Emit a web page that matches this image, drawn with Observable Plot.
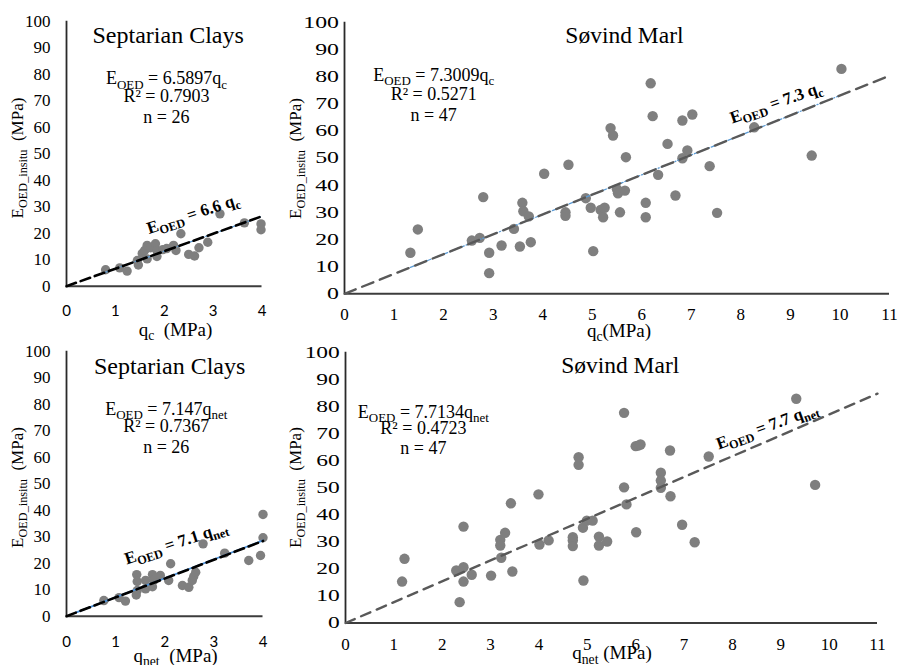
<!DOCTYPE html>
<html><head><meta charset="utf-8">
<script src="https://cdn.jsdelivr.net/npm/d3@7"></script>
<script src="https://cdn.jsdelivr.net/npm/@observablehq/plot@0.6"></script>
<style>
body{margin:0;background:#fff;}
#root{position:relative;width:899px;height:665px;overflow:hidden;background:#fff;}
#root svg{position:absolute;}
#root svg text{font-family:"Liberation Serif","Times New Roman","DejaVu Serif",serif;}
#root svg g.sansticks text{font-family:Lato,"Open Sans","Liberation Sans",sans-serif;}
</style></head><body><div id="root"></div>
<script>
// ---------- data ----------
const yTicks = [0,10,20,30,40,50,60,70,80,90,100];
const xTicksSep = [0,1,2,3,4];
const xTicksSov = [0,1,2,3,4,5,6,7,8,9,10,11];

// Septarian Clays: [qc (MPa), E_OED_insitu (MPa)]
const sepQc = [[0.80,6.2],[1.09,6.9],[1.24,5.7],[1.45,9.7],[1.47,8.0],[1.55,12.4],[1.60,13.5],[1.65,15.4],[1.65,10.3],[1.72,14.5],[1.82,16.0],[1.85,13.5],[1.85,11.2],[1.97,13.8],[2.05,14.2],[2.19,15.4],[2.24,13.5],[2.34,19.8],[2.50,12.0],[2.62,11.4],[2.71,14.5],[2.89,16.6],[3.14,27.3],[3.64,23.9],[3.98,23.5],[3.98,21.3]];
// Septarian Clays: [qnet (MPa), E_OED_insitu (MPa)]
const sepQnet = [[0.76,5.9],[1.07,7.0],[1.20,5.7],[1.44,9.7],[1.43,15.7],[1.44,13.1],[1.42,8.0],[1.61,10.3],[1.61,13.5],[1.75,15.7],[1.78,13.6],[1.75,11.1],[1.91,15.4],[2.08,13.5],[2.12,19.8],[2.36,11.6],[2.49,10.9],[2.56,13.5],[2.59,15.0],[2.63,16.6],[2.78,27.3],[3.22,23.8],[3.71,21.0],[3.95,22.9],[4.00,29.6],[4.00,38.4]];
// Søvind Marl: [qc (MPa), E_OED_insitu (MPa)]
const sovQc = [[1.33,15.1],[1.48,23.7],[2.57,19.6],[2.73,20.6],[2.80,35.6],[2.92,15.1],[2.92,7.6],[3.17,17.8],[3.42,23.9],[3.54,17.4],[3.59,33.5],[3.61,30.4],[3.72,28.5],[3.76,19.0],[4.03,44.2],[4.46,30.0],[4.46,28.7],[4.52,47.5],[4.87,35.2],[4.97,31.7],[5.02,15.7],[5.17,30.9],[5.22,28.2],[5.25,31.7],[5.37,61.0],[5.42,58.3],[5.50,38.5],[5.52,37.0],[5.56,30.0],[5.66,38.0],[5.68,50.3],[6.08,33.5],[6.08,28.2],[6.18,77.5],[6.22,65.4],[6.33,43.8],[6.52,55.2],[6.68,36.2],[6.82,63.8],[6.82,49.9],[6.92,52.8],[7.02,66.0],[7.37,47.0],[7.52,29.8],[8.27,61.3],[9.43,50.9],[10.03,82.8]];
// Søvind Marl: [qnet (MPa), E_OED_insitu (MPa)]
const sovQnet = [[1.17,15.3],[1.22,23.7],[2.29,19.4],[2.36,7.7],[2.44,35.6],[2.44,20.6],[2.44,15.3],[2.61,17.8],[3.01,17.5],[3.20,30.7],[3.20,28.6],[3.22,24.1],[3.30,33.3],[3.42,44.2],[3.45,19.0],[3.99,47.5],[4.01,29.0],[4.20,30.5],[4.70,31.7],[4.70,30.5],[4.70,28.4],[4.82,61.2],[4.82,58.4],[4.91,35.2],[4.92,15.7],[4.99,37.8],[5.11,37.8],[5.24,31.9],[5.24,28.6],[5.41,30.1],[5.76,77.6],[5.76,50.1],[5.81,43.8],[6.00,65.3],[6.05,65.5],[6.10,65.9],[6.01,33.5],[6.52,55.5],[6.52,52.6],[6.52,49.9],[6.71,63.7],[6.72,46.8],[6.96,36.3],[7.22,29.8],[7.51,61.5],[9.32,82.8],[9.71,51.0]];

// design lines (slopes stated on the chart) and Excel trendlines
const slopes = {sepQc: 6.6, sovQc: 7.3, sepQnet: 7.1, sovQnet: 7.7};
const trendSlopes = {sepQc: 6.5897, sovQc: 7.3009, sepQnet: 7.147, sovQnet: 7.7134};

// texts
const yTitle = "E_{OED_insitu}  (MPa)";
const titleSep = "Septarian Clays";
const titleSov = "Søvind Marl";
const eqSepQc = ["E_{OED} = 6.5897q_{c}", "R² = 0.7903", "n = 26"];
const eqSovQc = ["E_{OED} = 7.3009q_{c}", "R² = 0.5271", "n = 47"];
const eqSepQnet = ["E_{OED} = 7.147q_{net}", "R² = 0.7367", "n = 26"];
const eqSovQnet = ["E_{OED} = 7.7134q_{net}", "R² = 0.4723", "n = 47"];
const lineLabels = {sepQc: "E_{OED} = 6.6 q_{c}", sovQc: "E_{OED} = 7.3 q_{c}", sepQnet: "E_{OED} = 7.1 q_{net}", sovQnet: "E_{OED} = 7.7 q_{net}"};
const xTitles = {sepQc: "q_{c}  (MPa)", sovQc: "q_{c}(MPa)", sepQnet: "q_{net}  (MPa)", sovQnet: "q_{net} (MPa)"};

// ---------- rendering ----------
const root = document.getElementById("root");

function richText(svg) {
  svg.querySelectorAll("text").forEach(el => {
    const s = el.textContent;
    if (!s.includes("_{")) return;
    const re = /_\{([^}]*)\}/g; let last = 0, m; const parts = [];
    while ((m = re.exec(s))) {
      if (m.index > last) parts.push({t: s.slice(last, m.index)});
      parts.push({t: m[1], sub: true}); last = re.lastIndex;
    }
    if (last < s.length) parts.push({t: s.slice(last)});
    el.textContent = "";
    let shifted = false;
    for (const p of parts) {
      const ts = document.createElementNS("http://www.w3.org/2000/svg", "tspan");
      ts.textContent = p.t;
      if (p.sub) { ts.setAttribute("font-size", "72%"); ts.setAttribute("dy", "0.33em"); shifted = true; }
      else if (shifted) { ts.setAttribute("dy", "-0.238em"); shifted = false; }
      el.appendChild(ts);
    }
  });
}

function panel(c) {
  const fit = c.fitRange.map(q => ({q, e: c.slope * q}));
  const trend = c.trendRange ? c.trendRange.map(q => ({q, e: c.trendSlope * q})) : null;
  const marks = [
    Plot.ruleY([0], {x1: 0, x2: c.xMax, stroke: "#3c3c3c", strokeWidth: 2}),
    Plot.ruleX([0], {y1: 0, y2: 100, stroke: "#2a2a2a", strokeWidth: 1.8}),
    Plot.axisY({ticks: yTicks, tickSize: 0, tickPadding: c.yPad, fontSize: 17, label: null, tickFormat: d => String(d)}),
    Plot.axisX({ticks: c.xTicks, tickSize: 0, tickPadding: c.xPad, fontSize: c.xFontSize, label: null, tickFormat: d => String(d)}),
    Plot.dot(c.points, {x: d => d[0], y: d => d[1], r: c.r, fill: "#7f7f7f"}),
  ];
  if (trend) marks.push(Plot.line(trend, {x: "q", y: "e", stroke: c.trendColor, strokeWidth: c.trendWidth, strokeDasharray: c.trendDash}));
  marks.push(Plot.line(fit, {x: "q", y: "e", stroke: c.fitColor, strokeWidth: c.fitWidth, strokeDasharray: c.fitDash}));
  marks.push(Plot.text([c.title], {x: c.titleX, y: c.titleY, text: d => d, fontSize: c.titleSize, textAnchor: "middle", lineAnchor: "bottom"}));
  c.eq.forEach((s, i) => marks.push(Plot.text([s], {x: c.eqX, y: c.eqY[i], text: d => d, fontSize: 18, textAnchor: "middle", lineAnchor: "bottom"})));
  marks.push(Plot.text([c.rotText], {x: c.rotX, y: c.rotY, text: d => d, rotate: c.rotAngle, fontSize: 17, fontWeight: "bold", textAnchor: "middle", lineAnchor: "middle"}));
  marks.push(Plot.text([c.xTitle], {x: c.xTitleX, frameAnchor: "bottom", dy: c.xTitleDy, text: d => d, fontSize: 19, textAnchor: "middle", lineAnchor: "bottom"}));
  marks.push(Plot.text([yTitle], {frameAnchor: "left", dx: c.yTitleDx, dy: c.yTitleDy, rotate: -90, text: d => d, fontSize: 17, textAnchor: "middle", lineAnchor: "middle"}));

  const svg = Plot.plot({
    width: c.width, height: c.height,
    marginLeft: c.ml, marginRight: c.mr, marginTop: c.mt, marginBottom: c.mb,
    x: {domain: [0, c.xMax]}, y: {domain: [0, 100]},
    style: {background: "transparent", overflow: "visible", color: "#000"},
    marks
  });
  svg.style.left = c.left + "px"; svg.style.top = c.top + "px";
  svg.setAttribute("overflow", "visible");
  const xg = svg.querySelector('g[aria-label="x-axis tick label"]');
  if (xg && c.sansTicks) xg.classList.add("sansticks");
  if (c.yStretch) {
    svg.querySelectorAll('g[aria-label="y-axis tick label"] text').forEach(t => {
      const tr = t.getAttribute("transform") || "";
      t.setAttribute("transform", tr + ` scale(${c.yStretch},1)`);
    });
  }
  richText(svg);
  root.appendChild(svg);
}

panel({left: 0, top: 0, width: 300, height: 335, ml: 66, mr: 38.5, mt: 20.7, mb: 49.3,
  xMax: 4, xTicks: xTicksSep, sansTicks: true, xFontSize: 15, xPad: 19.3, yPad: 16,
  points: sepQc, r: 4.7,
  slope: slopes.sepQc, fitRange: [0, 4], fitColor: "#000", fitWidth: 2.6, fitDash: "10,5",
  trendSlope: trendSlopes.sepQc, trendRange: [0.77, 4], trendColor: "#5b9bd5", trendWidth: 1.3, trendDash: "4,2,1,2",
  title: titleSep, titleSize: 24, titleX: 2.08, titleY: 91.7,
  eq: eqSepQc, eqX: 2.045, eqY: [76.2, 69.4, 61.5],
  rotText: lineLabels.sepQc, rotX: 2.59, rotY: 27.3, rotAngle: -18,
  xTitle: xTitles.sepQc, xTitleX: 2.23, xTitleDy: 49.5,
  yTitleDx: -48.7, yTitleDy: 4.3});

panel({left: 290, top: 0, width: 609, height: 335, ml: 54, mr: 10, mt: 21.7, mb: 41.7,
  xMax: 11, xTicks: xTicksSov, sansTicks: false, xFontSize: 17, xPad: 14.4, yPad: 5.5, yStretch: 1.4,
  points: sovQc, r: 5.2,
  slope: slopes.sovQc, fitRange: [0, 11], fitColor: "#595959", fitWidth: 2.4, fitDash: "12,7",
  trendSlope: trendSlopes.sovQc, trendRange: [1.33, 10], trendColor: "#5b9bd5", trendWidth: 1.3, trendDash: "4,2,1,2",
  title: titleSov, titleSize: 23.5, titleX: 5.65, titleY: 92.3,
  eq: eqSovQc, eqX: 1.80, eqY: [78.5, 71.2, 63.5],
  rotText: lineLabels.sovQc, rotX: 8.71, rotY: 70.4, rotAngle: -19,
  xTitle: xTitles.sovQc, xTitleX: 5.54, xTitleDy: 43,
  yTitleDx: -48.7, yTitleDy: 0.5});

panel({left: 0, top: 330, width: 300, height: 335, ml: 66, mr: 37.5, mt: 20.7, mb: 49.3,
  xMax: 4, xTicks: xTicksSep, sansTicks: true, xFontSize: 15, xPad: 20.3, yPad: 16,
  points: sepQnet, r: 4.7,
  slope: slopes.sepQnet, fitRange: [0, 4], fitColor: "#000", fitWidth: 2.6, fitDash: "10,5",
  trendSlope: trendSlopes.sepQnet, trendRange: [0.2, 4], trendColor: "#4a90d9", trendWidth: 1.8, trendDash: null,
  title: titleSep, titleSize: 24, titleX: 2.1, titleY: 91.5,
  eq: eqSepQnet, eqX: 2.03, eqY: [76.1, 69.4, 61.5],
  rotText: lineLabels.sepQnet, rotX: 2.23, rotY: 27.7, rotAngle: -18,
  xTitle: xTitles.sepQnet, xTitleX: 2.22, xTitleDy: 45.3,
  yTitleDx: -48.7, yTitleDy: 3.8});

panel({left: 290, top: 330, width: 609, height: 335, ml: 55, mr: 22, mt: 21.7, mb: 42.5,
  xMax: 11, xTicks: xTicksSov, sansTicks: false, xFontSize: 17, xPad: 14.7, yPad: 5.7, yStretch: 1.38,
  points: sovQnet, r: 5.2,
  slope: slopes.sovQnet, fitRange: [0, 11], fitColor: "#595959", fitWidth: 2.4, fitDash: "10,7",
  trendRange: null,
  title: titleSov, titleSize: 23.5, titleX: 5.68, titleY: 92.4,
  eq: eqSovQnet, eqX: 1.61, eqY: [75.8, 69.9, 62.5],
  rotText: lineLabels.sovQnet, rotX: 8.72, rotY: 72.7, rotAngle: -20,
  xTitle: xTitles.sovQnet, xTitleX: 5.51, xTitleDy: 36,
  yTitleDx: -49.5, yTitleDy: 0});
</script></body></html>
